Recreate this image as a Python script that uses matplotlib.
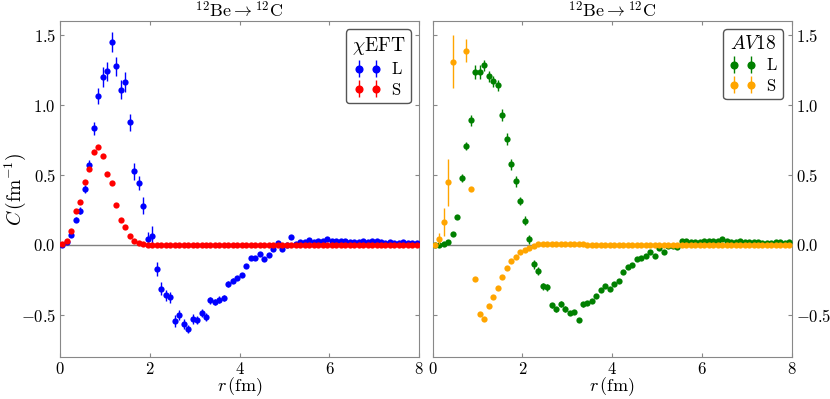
import numpy as np
import matplotlib
matplotlib.use('Agg')
import matplotlib.pyplot as plt
from matplotlib.ticker import FuncFormatter

plt.rcParams['mathtext.fontset'] = 'cm'
plt.rcParams['font.family'] = 'serif'
plt.rcParams['font.serif'] = ['cmr10', 'DejaVu Serif']
plt.rcParams['axes.unicode_minus'] = False

# r grid (fm)
r = np.arange(0.05, 8.0, 0.1)

# chiEFT, L channel
c_eft_L = [0.0, 0.02, 0.07, 0.18, 0.245, 0.40, 0.57, 0.833, 1.066, 1.20,
           1.24, 1.45, 1.276, 1.11, 1.166, 0.876, 0.526, 0.44, 0.28, 0.045,
           0.066, -0.174, -0.314, -0.36, -0.376, -0.545, -0.50, -0.567, -0.60, -0.53,
           -0.536, -0.488, -0.517, -0.398, -0.407, -0.393, -0.379, -0.281, -0.255, -0.238,
           -0.217, -0.15, -0.093, -0.093, -0.064, -0.098, -0.069, -0.029, 0.012, -0.031,
           -0.002, 0.057, 0.005, 0.019, 0.019, 0.036, 0.019, 0.029, 0.026, 0.043,
           0.026, 0.031, 0.026, 0.026, 0.021, 0.021, 0.021, 0.029, 0.021, 0.024,
           0.024, 0.017, 0.014, 0.019, 0.014, 0.014, 0.021, 0.014, 0.012, 0.012]
e_eft_L = [0.01, 0.01, 0.01, 0.02, 0.025, 0.03, 0.035, 0.047, 0.057, 0.07,
           0.07, 0.07, 0.07, 0.07, 0.07, 0.06, 0.06, 0.05, 0.06, 0.05,
           0.07, 0.05, 0.045, 0.04, 0.04, 0.04, 0.035, 0.035, 0.03, 0.035,
           0.03, 0.03, 0.03, 0.025, 0.02, 0.025, 0.02, 0.02, 0.02, 0.015,
           0.015, 0.015, 0.015, 0.012, 0.012, 0.012, 0.01, 0.01, 0.01, 0.01,
           0.008, 0.008, 0.008, 0.008, 0.006, 0.006, 0.006, 0.006, 0.005, 0.005,
           0.005, 0.005, 0.005, 0.005, 0.004, 0.004, 0.004, 0.004, 0.004, 0.004,
           0.003, 0.003, 0.003, 0.003, 0.003, 0.003, 0.003, 0.003, 0.003, 0.003]

# chiEFT, S channel
c_eft_S = [0.007, 0.03, 0.10, 0.243, 0.307, 0.45, 0.54, 0.667, 0.70, 0.633,
           0.507, 0.443, 0.288, 0.179, 0.129, 0.066, 0.029, 0.012, 0.003, 0.001] + [0.0] * 60

# AV18, L channel
c_av_L = [0.0, 0.0, 0.005, 0.02, 0.078, 0.20, 0.48, 0.707, 0.89, 1.233,
          1.238, 1.283, 1.205, 1.171, 1.14, 0.929, 0.757, 0.575, 0.456, 0.314,
          0.174, 0.039, -0.14, -0.188, -0.295, -0.305, -0.433, -0.462, -0.421, -0.457,
          -0.486, -0.483, -0.538, -0.426, -0.417, -0.40, -0.367, -0.324, -0.293, -0.317,
          -0.281, -0.257, -0.195, -0.157, -0.146, -0.102, -0.095, -0.08, -0.048, -0.083,
          -0.022, -0.048, -0.01, -0.005, -0.012, 0.026, 0.026, 0.017, 0.021, 0.019,
          0.024, 0.024, 0.024, 0.026, 0.045, 0.026, 0.021, 0.021, 0.024, 0.019,
          0.017, 0.017, 0.017, 0.012, 0.014, 0.012, 0.017, 0.019, 0.012, 0.017]
e_av_L = [0.003, 0.003, 0.005, 0.008, 0.01, 0.015, 0.03, 0.03, 0.04, 0.05,
          0.05, 0.04, 0.04, 0.04, 0.04, 0.04, 0.04, 0.04, 0.04, 0.03,
          0.03, 0.03, 0.03, 0.03, 0.025, 0.025, 0.02, 0.02, 0.02, 0.02,
          0.015, 0.015, 0.015, 0.015, 0.012, 0.012, 0.012, 0.01, 0.01, 0.01,
          0.01, 0.008, 0.008, 0.008, 0.008, 0.006, 0.006, 0.006, 0.006, 0.005,
          0.005, 0.005, 0.005, 0.005, 0.004, 0.004, 0.004, 0.004, 0.004, 0.004,
          0.003, 0.003, 0.003, 0.003, 0.003, 0.003, 0.003, 0.003, 0.003, 0.003,
          0.003, 0.003, 0.003, 0.003, 0.003, 0.003, 0.003, 0.003, 0.003, 0.003]

# AV18, S channel (0.55 and 0.65 fm are off the top of the plot)
c_av_S = [0.0, 0.045, 0.165, 0.447, 1.31, np.nan, np.nan, 1.39, 0.40, -0.246,
          -0.494, -0.53, -0.44, -0.37, -0.312, -0.227, -0.165, -0.116, -0.085, -0.054,
          -0.035, -0.019, -0.005, 0.004, 0.005, 0.005, 0.005, 0.005, 0.004, 0.004,
          0.004, 0.003, 0.003, 0.003, 0.002, 0.002] + [0.0] * 44
e_av_S = [0.0, 0.04, 0.1, 0.17, 0.19, np.nan, np.nan, 0.08, 0.01, 0.005] + [0.0] * 70

titles = [r'$^{12}\mathrm{Be}\rightarrow{}^{12}\mathrm{C}$', r'$^{12}\mathrm{Be}\rightarrow{}^{12}\mathrm{C}$']
leg_titles = [r'$\chi\mathrm{EFT}$', r'$AV18$']

fig = plt.figure(figsize=(8.3, 3.99), dpi=100)
ax1 = fig.add_axes([0.0725, 0.106, 0.4325, 0.841])
ax2 = fig.add_axes([0.5213, 0.106, 0.4325, 0.841])

def fmt_y(v, pos):
    return r'$%.1f$' % v

def fmt_x(v, pos):
    return r'$%d$' % v

sets = [(ax1, c_eft_L, e_eft_L, c_eft_S, [0.0] * 80, 'b', 'r'),
        (ax2, c_av_L, e_av_L, c_av_S, e_av_S, 'g', 'orange')]

for i, (ax, yl, el, ys, es, cl, cs) in enumerate(sets):
    ax.axhline(0, color='gray', lw=1.0, zorder=1)
    ax.errorbar(r, yl, yerr=el, fmt='o', color=cl, ecolor=cl, ms=4.5, mew=0,
                elinewidth=1, capsize=1.5, label=r'$\mathrm{L}$', zorder=3)
    ax.errorbar(r, ys, yerr=es, fmt='o', color=cs, ecolor=cs, ms=4.5, mew=0,
                elinewidth=1, capsize=1.5, label=r'$\mathrm{S}$', zorder=4)
    ax.set_xlim(0, 8)
    ax.set_ylim(-0.8, 1.6)
    ax.set_xticks([0, 2, 4, 6, 8])
    ax.set_yticks([-0.5, 0.0, 0.5, 1.0, 1.5])
    ax.xaxis.set_major_formatter(FuncFormatter(fmt_x))
    ax.yaxis.set_major_formatter(FuncFormatter(fmt_y))
    ax.tick_params(direction='in', top=True, right=True, length=3, color='#888888',
                   labelsize=12, pad=3)
    for s in ax.spines.values():
        s.set_color('#888888')
    ax.set_title(titles[i], fontsize=13, pad=3)
    ax.set_xlabel(r'$r\,(\mathrm{fm})$', fontsize=13, labelpad=-1)
    leg = ax.legend(loc='upper right', numpoints=2, handlelength=1.6, fontsize=12,
                    title=leg_titles[i], title_fontsize=14, fancybox=True,
                    markerscale=1.3, borderaxespad=0.5, handletextpad=0.6,
                    borderpad=0.35, labelspacing=0.25)
    leg.get_frame().set_edgecolor('#555555')
    leg.get_frame().set_alpha(1)

ax1.set_ylabel(r'$C\,(\mathrm{fm}^{-1})$', fontsize=14)
ax1.yaxis.set_label_coords(-0.09, 0.5)
ax2.tick_params(labelleft=False, labelright=True)

plt.savefig('out.png', dpi=100)
